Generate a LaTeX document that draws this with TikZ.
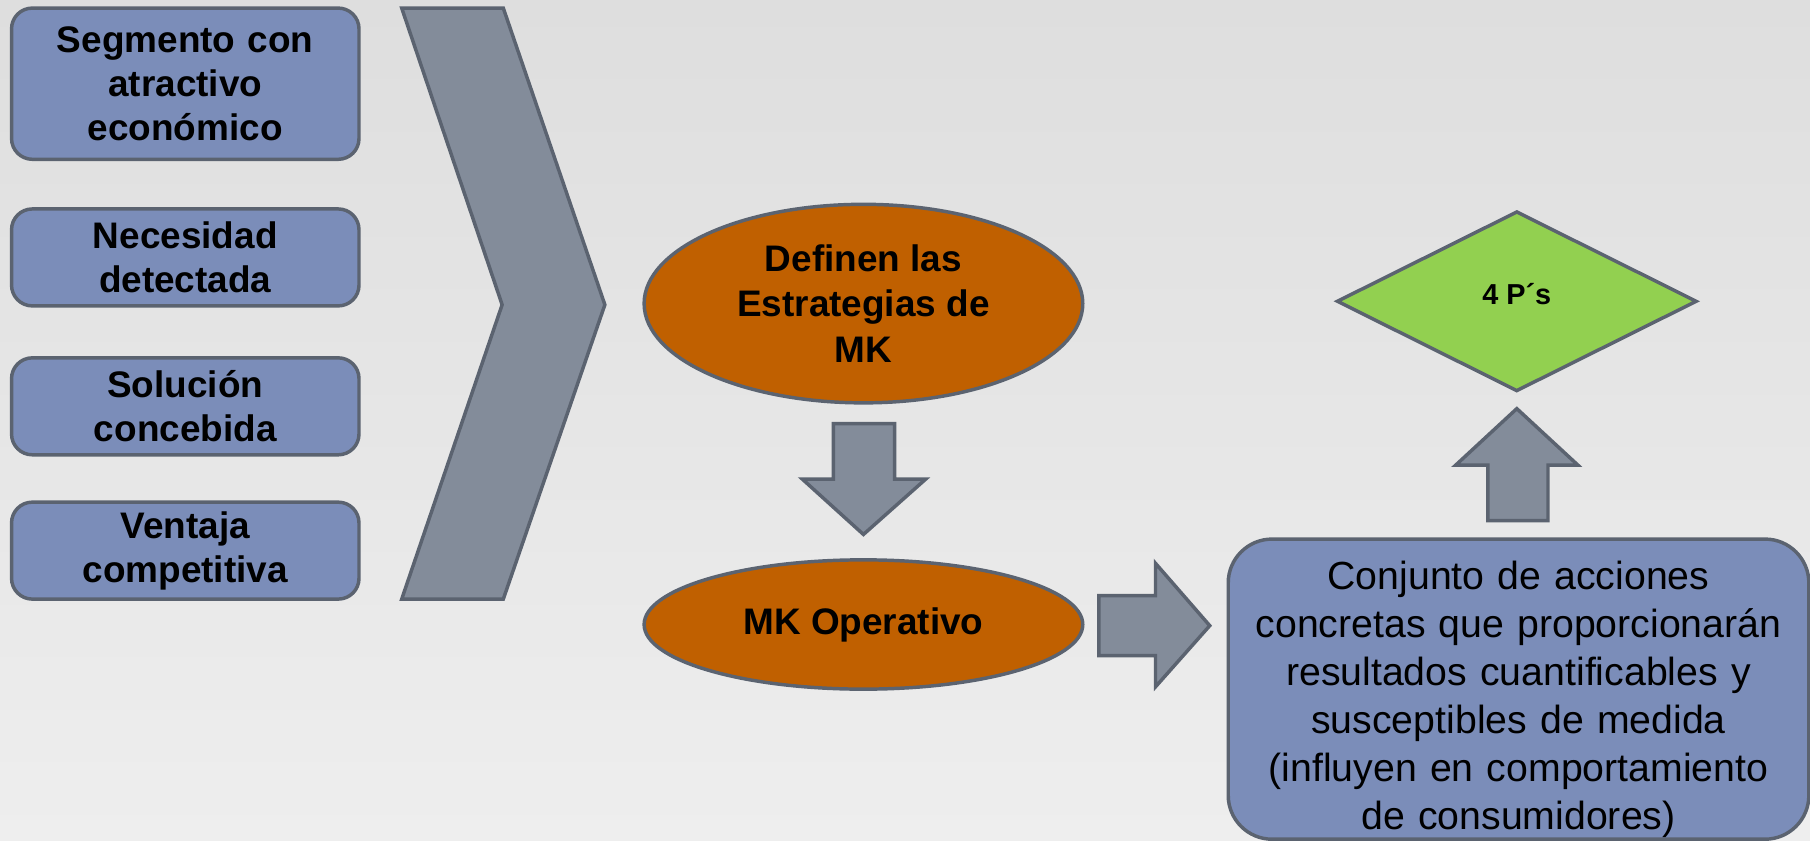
\documentclass[tikz,border=0pt]{standalone}
\usepackage{fontspec}
\setmainfont{Liberation Sans}
\usetikzlibrary{shapes.geometric}
\definecolor{bgtop}{HTML}{DEDEDE}
\definecolor{bgbot}{HTML}{EEEEEE}
\definecolor{boxblue}{HTML}{7B8DB9}
\definecolor{edgegray}{HTML}{5B6370}
\definecolor{chevgray}{HTML}{838C9A}
\definecolor{mkorange}{HTML}{C06000}
\definecolor{lime}{HTML}{92D050}

\begin{document}
\begin{tikzpicture}[x=1pt,y=-1pt,
  outline/.style={draw=edgegray, line width=3pt, line join=miter},
  sidebox/.style={outline, fill=boxblue, rounded corners=18pt,
    minimum width=301pt, text width=296pt, align=center, inner sep=0pt,
    font=\bfseries\fontsize{32}{38}\selectfont},
  oval/.style={outline, fill=mkorange, ellipse, minimum width=380pt,
    inner sep=0pt, align=center, font=\bfseries\fontsize{32}{39.5}\selectfont},
  blockarrow/.style={outline, fill=chevgray}]

% background
\shade[top color=bgtop, bottom color=bgbot] (0,0) rectangle (1568,728);
\path[use as bounding box] (0,0) rectangle (1568,728);

% left column
\node[sidebox, minimum height=131pt] (seg) at (160.5,72.5)
  {Segmento con\\atractivo\\económico};
\node[sidebox, minimum height=84pt] (nec) at (160.5,223)
  {Necesidad\\detectada};
\node[sidebox, minimum height=84pt] (sol) at (160.5,352)
  {Solución\\concebida};
\node[sidebox, minimum height=84pt] (ven) at (160.5,477)
  {Ventaja\\competitiva};

% chevron
\draw[blockarrow] (348,7) -- (436,7) -- (524,264) -- (436,519) -- (348,519)
  -- (435,264) -- cycle;

% marketing ellipses
\node[oval, minimum height=172pt] (est) at (748,263)
  {Definen las\\Estrategias de\\MK};
\node[oval, minimum height=112pt] (ope) at (748,541) {MK Operativo};

% down arrow
\draw[blockarrow] (722,367) -- (775,367) -- (775,415) -- (802,415) -- (748,463)
  -- (695,415) -- (722,415) -- cycle;

% right arrow
\draw[blockarrow] (952,516) -- (1001,516) -- (1001,488) -- (1048,542)
  -- (1001,595) -- (1001,568) -- (952,568) -- cycle;

% actions box and its text
\node[outline, fill=boxblue, rounded corners=38pt, minimum width=503pt,
  minimum height=260pt, inner sep=0pt] (acc) at (1315.5,597) {};
\node[text width=500pt, align=center, inner sep=0pt,
  font=\fontsize{34}{41.6}\selectfont] (acctext) at ([yshift=-9pt]acc.center)
  {Conjunto de acciones\\concretas que proporcionarán\\resultados cuantificables y\\susceptibles de medida\\(influyen en comportamiento\\de consumidores)};

% up arrow
\draw[blockarrow] (1314,354) -- (1367,403) -- (1341,403) -- (1341,451)
  -- (1289,451) -- (1289,403) -- (1261,403) -- cycle;

% 4 P's diamond
\node[outline, fill=lime, diamond, aspect=2, minimum width=312pt,
  minimum height=156pt, inner sep=0pt] (ps) at (1314,261) {};
\node[font=\bfseries\fontsize{25}{29}\selectfont, inner sep=0pt] (pstext)
  at ([yshift=6pt]ps.center) {4 P´s};

\end{tikzpicture}
\end{document}
